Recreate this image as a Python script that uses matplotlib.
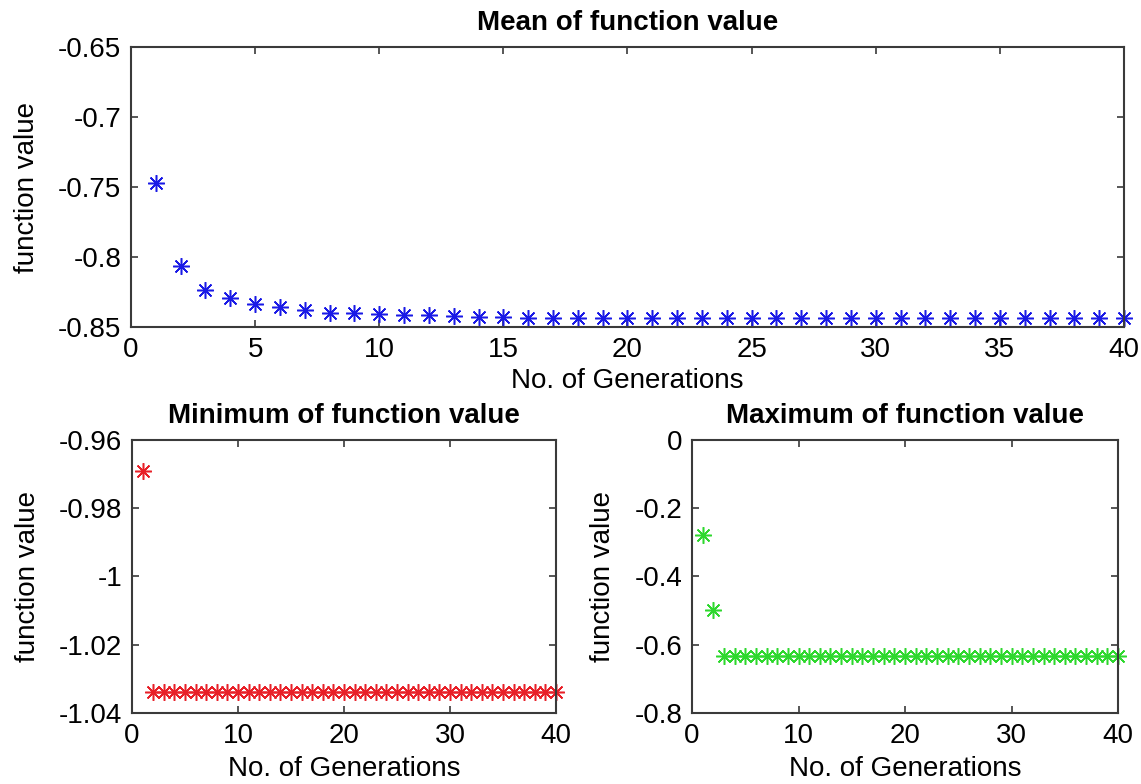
import numpy as np
import matplotlib
matplotlib.use("Agg")
import matplotlib.pyplot as plt
from matplotlib.ticker import FuncFormatter

plt.rcParams['font.family'] = ['Liberation Sans', 'DejaVu Sans']

# Generations 1..40
generations = np.arange(1, 41)

# Mean of function value per generation
mean_vals = [-0.7469, -0.8064, -0.8233, -0.8293, -0.8333, -0.8357, -0.8381, -0.8398,
             -0.8402, -0.8407, -0.8412, -0.8417, -0.8421, -0.8429, -0.8430, -0.8433,
             -0.8433, -0.8433, -0.8434, -0.8434, -0.8435, -0.8435, -0.8435, -0.8436,
             -0.8436, -0.8436, -0.8436, -0.8437, -0.8437, -0.8437, -0.8437, -0.8437,
             -0.8437, -0.8438, -0.8438, -0.8438, -0.8438, -0.8438, -0.8438, -0.8438]

# Minimum of function value per generation
min_vals = [-0.969] + [-1.034] * 39

# Maximum of function value per generation
max_vals = [-0.278, -0.498] + [-0.634] * 38

FS = 20
AX_COLOR = '#3a3a3a'


def fmt_g(v, pos):
    s = '%g' % round(v, 4)
    return '0' if s == '-0' else s


def style_axes(ax, xticks, yticks, ylim, xpad):
    ax.set_xlim(0, 40)
    ax.set_ylim(*ylim)
    ax.set_xticks(xticks)
    ax.set_yticks(yticks)
    ax.yaxis.set_major_formatter(FuncFormatter(fmt_g))
    ax.tick_params(direction='in', length=5, width=1.2, colors=AX_COLOR,
                   labelcolor='black', labelsize=FS, top=True, right=True, pad=7)
    for sp in ax.spines.values():
        sp.set_color(AX_COLOR)
        sp.set_linewidth(1.5)
    ax.set_xlabel('No. of Generations', fontsize=FS, labelpad=xpad)
    ax.set_ylabel('function value', fontsize=FS, labelpad=13)


fig = plt.figure(figsize=(11.41, 7.84), dpi=100)

ax_top = fig.add_axes([0.1148, 0.5829, 0.8703, 0.3571])
ax_min = fig.add_axes([0.1157, 0.0906, 0.3716, 0.3482])
ax_max = fig.add_axes([0.6065, 0.0906, 0.3734, 0.3482])

marker = (8, 2, 0)

ax_top.plot(generations, mean_vals, linestyle='none', marker=marker,
            markersize=12, markeredgewidth=1.1, color='#1a1ae6', clip_on=False)
style_axes(ax_top, np.arange(0, 41, 5), [-0.85, -0.8, -0.75, -0.7, -0.65], (-0.85, -0.65), 4)
ax_top.set_title('Mean of function value', fontsize=FS, fontweight='bold', pad=12)

ax_min.plot(generations, min_vals, linestyle='none', marker=marker,
            markersize=12, markeredgewidth=1.1, color='#e82028', clip_on=False)
style_axes(ax_min, np.arange(0, 41, 10), [-1.04, -1.02, -1.0, -0.98, -0.96], (-1.04, -0.96), 5)
ax_min.set_title('Minimum of function value', fontsize=FS, fontweight='bold', pad=12)

ax_max.plot(generations, max_vals, linestyle='none', marker=marker,
            markersize=12, markeredgewidth=1.1, color='#2ed82e', clip_on=False)
style_axes(ax_max, np.arange(0, 41, 10), [-0.8, -0.6, -0.4, -0.2, 0.0], (-0.8, 0.0), 5)
ax_max.set_title('Maximum of function value', fontsize=FS, fontweight='bold', pad=12)

fig.savefig('out.png', dpi=100)
